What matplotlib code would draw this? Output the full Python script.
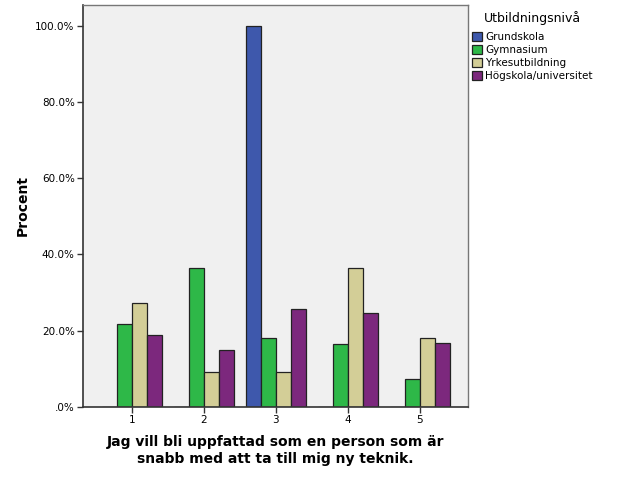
import numpy as np
import matplotlib.pyplot as plt

categories = ["1", "2", "3", "4", "5"]
groups = ["Grundskola", "Gymnasium", "Yrkesutbildning", "Högskola/universitet"]
grundskola = [0.0, 0.0, 100.0, 0.0, 0.0]
gymnasium = [21.8, 36.4, 18.2, 16.4, 7.3]
yrkes = [27.3, 9.1, 9.1, 36.4, 18.2]
hogskola = [18.8, 14.9, 25.6, 24.6, 16.9]
y_ticks = [0, 20, 40, 60, 80, 100]
y_tick_labels = [".0%", "20.0%", "40.0%", "60.0%", "80.0%", "100.0%"]

colors = ["#3E58AC", "#2EB848", "#D3CE97", "#7C287D"]
series = [grundskola, gymnasium, yrkes, hogskola]

fig = plt.figure(figsize=(6.26, 5.01), dpi=100)
ax = fig.add_axes([83 / 626, 1 - 407 / 501, (468 - 83) / 626, (407 - 5) / 501])
ax.set_facecolor("#F0F0F0")

x = np.arange(1, len(categories) + 1)
w = 0.208
offsets = [-1.5, -0.5, 0.5, 1.5]
for vals, off, col, name in zip(series, offsets, colors, groups):
    ax.bar(x + off * w, vals, width=w, color=col, edgecolor="#222222",
           linewidth=0.9, label=name)

ax.set_xlim(0.324, 5.67)
ax.set_ylim(0, 105.4)
ax.set_xticks(x)
ax.set_xticklabels(categories, fontsize=7.5)
ax.set_yticks(y_ticks)
ax.set_yticklabels(y_tick_labels, fontsize=7.5)
ax.tick_params(axis="both", length=4, width=1, color="#333333", pad=2)

for s in ["left", "bottom"]:
    ax.spines[s].set_color("#333333")
    ax.spines[s].set_linewidth(1.2)
for s in ["top", "right"]:
    ax.spines[s].set_color("#777777")
    ax.spines[s].set_linewidth(1.0)

ax.set_ylabel("Procent", fontsize=10, fontweight="bold", labelpad=4)
ax.set_xlabel("Jag vill bli uppfattad som en person som är\nsnabb med att ta till mig ny teknik.",
              fontsize=10, fontweight="bold", linespacing=1.25, labelpad=7)

fig.text(484 / 626, 1 - 18 / 501, "Utbildningsnivå", fontsize=9, va="center", ha="left")
ax.legend(loc="upper left", bbox_to_anchor=(470 / 626, 1 - 30 / 501),
          bbox_transform=fig.transFigure, frameon=False, fontsize=7.5,
          handlelength=0.95, handleheight=0.95, handletextpad=0.3,
          labelspacing=0.28, borderaxespad=0, borderpad=0.2)

fig.savefig("out.png", dpi=100)
